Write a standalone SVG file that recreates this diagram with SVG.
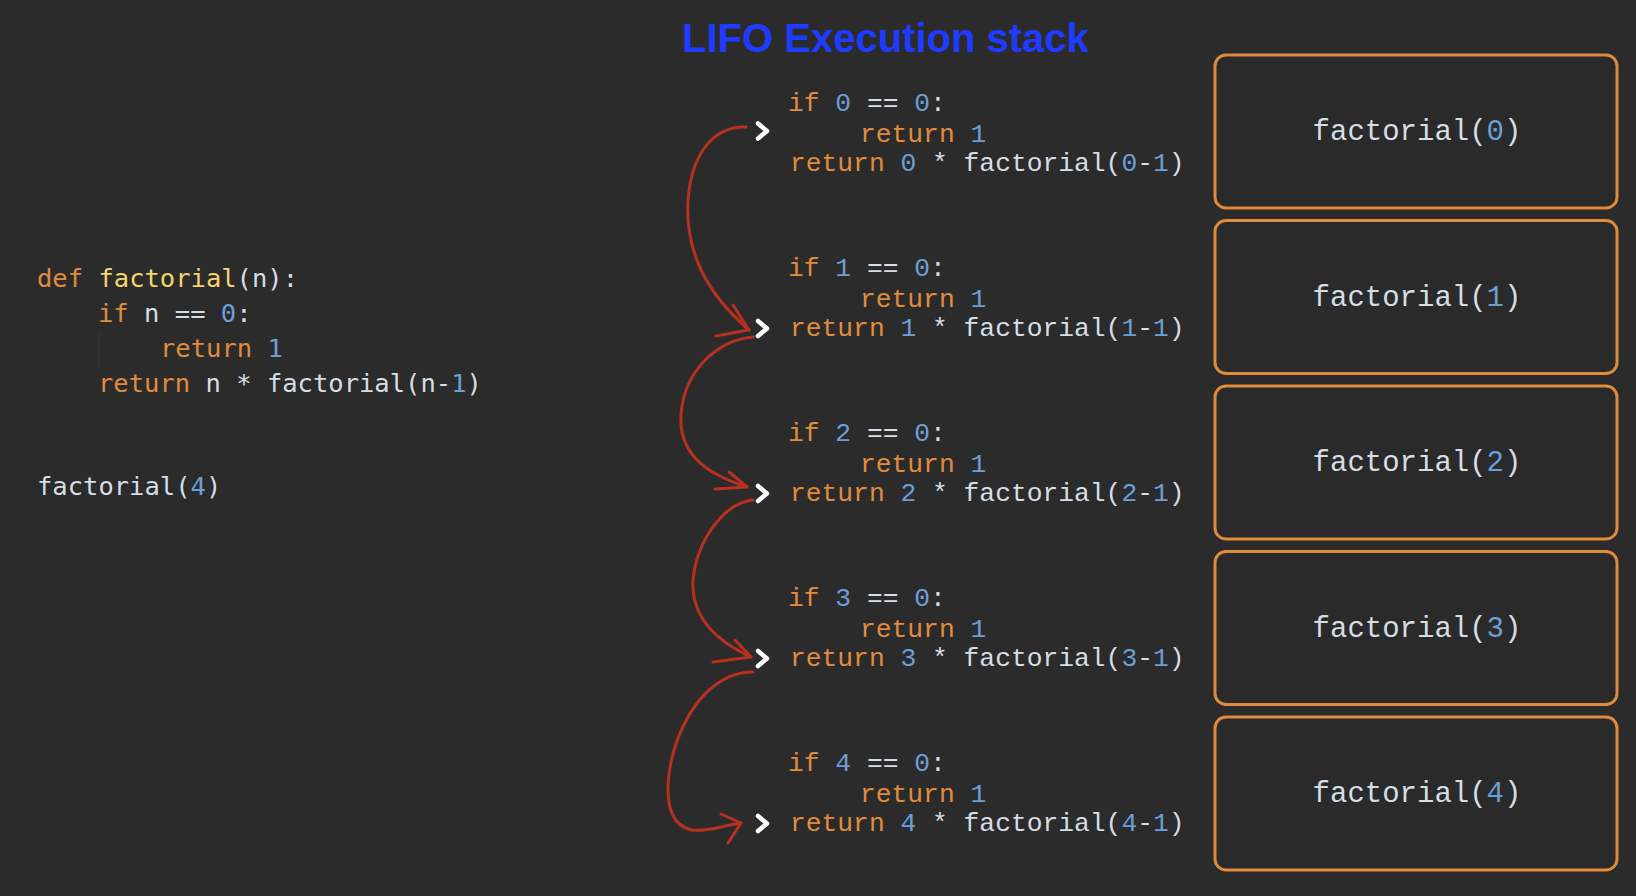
<svg xmlns="http://www.w3.org/2000/svg" width="1636" height="896" viewBox="0 0 1636 896">
<defs>
<style>
.code{font-family:"DejaVu Sans Mono","Liberation Mono",monospace;font-size:25.5px;fill:#d6dde4}
.mid{font-family:"Liberation Mono","DejaVu Sans Mono",monospace;font-size:26.3px;fill:#d6dde4}
.box{fill:#2a2a2a;stroke:#e08a3c;stroke-width:3}
.boxt{font-family:"Liberation Mono","DejaVu Sans Mono",monospace;font-size:29px;fill:#d6dde4;text-anchor:middle}
.kw{fill:#e08c3e}
.num{fill:#6b9fd6}
.fn{fill:#f3d56b}
.chev{fill:none;stroke:#ffffff;stroke-width:4.5;stroke-linecap:round;stroke-linejoin:round}
.arr{fill:none;stroke:#b8301f;stroke-width:3;stroke-linecap:round;stroke-linejoin:round}
.title{font-family:"Liberation Sans",Arial,sans-serif;font-weight:bold;font-size:40px;fill:#1f3bff}
</style>
</defs>
<rect width="1636" height="896" fill="#2b2b2b"/>

<g id="title"><text class="title" x="682" y="52">LIFO Execution stack</text></g>

<g id="source-code">
<line x1="99" y1="333" x2="99" y2="367" stroke="#383838" stroke-width="1"/>
<text class="code" x="37" y="287"><tspan class="kw">def</tspan> <tspan class="fn">factorial</tspan>(n):</text>
<text class="code" x="98" y="322"><tspan class="kw">if</tspan> n == <tspan class="num">0</tspan>:</text>
<text class="code" x="160" y="357"><tspan class="kw">return</tspan> <tspan class="num">1</tspan></text>
<text class="code" x="98" y="392"><tspan class="kw">return</tspan> n * factorial(n-<tspan class="num">1</tspan>)</text>
<text class="code" x="37" y="495">factorial(<tspan class="num">4</tspan>)</text>
</g>

<g id="frame-0">
<text class="mid" x="788" y="111"><tspan class="kw">if</tspan> <tspan class="num">0</tspan> == <tspan class="num">0</tspan>:</text>
<text class="mid" x="860" y="142"><tspan class="kw">return</tspan> <tspan class="num">1</tspan></text>
<text class="mid" x="790" y="171"><tspan class="kw">return</tspan> <tspan class="num">0</tspan> * factorial(<tspan class="num">0</tspan>-<tspan class="num">1</tspan>)</text>
<path class="chev" d="M758,123.5 L767,131 L758,138.5"/>
</g>
<g id="frame-1">
<text class="mid" x="788" y="276"><tspan class="kw">if</tspan> <tspan class="num">1</tspan> == <tspan class="num">0</tspan>:</text>
<text class="mid" x="860" y="307"><tspan class="kw">return</tspan> <tspan class="num">1</tspan></text>
<text class="mid" x="790" y="336"><tspan class="kw">return</tspan> <tspan class="num">1</tspan> * factorial(<tspan class="num">1</tspan>-<tspan class="num">1</tspan>)</text>
<path class="chev" d="M758,321 L767,328.5 L758,336"/>
</g>
<g id="frame-2">
<text class="mid" x="788" y="441"><tspan class="kw">if</tspan> <tspan class="num">2</tspan> == <tspan class="num">0</tspan>:</text>
<text class="mid" x="860" y="472"><tspan class="kw">return</tspan> <tspan class="num">1</tspan></text>
<text class="mid" x="790" y="501"><tspan class="kw">return</tspan> <tspan class="num">2</tspan> * factorial(<tspan class="num">2</tspan>-<tspan class="num">1</tspan>)</text>
<path class="chev" d="M758,486 L767,493.5 L758,501"/>
</g>
<g id="frame-3">
<text class="mid" x="788" y="606"><tspan class="kw">if</tspan> <tspan class="num">3</tspan> == <tspan class="num">0</tspan>:</text>
<text class="mid" x="860" y="637"><tspan class="kw">return</tspan> <tspan class="num">1</tspan></text>
<text class="mid" x="790" y="666"><tspan class="kw">return</tspan> <tspan class="num">3</tspan> * factorial(<tspan class="num">3</tspan>-<tspan class="num">1</tspan>)</text>
<path class="chev" d="M758,651 L767,658.5 L758,666"/>
</g>
<g id="frame-4">
<text class="mid" x="788" y="771"><tspan class="kw">if</tspan> <tspan class="num">4</tspan> == <tspan class="num">0</tspan>:</text>
<text class="mid" x="860" y="802"><tspan class="kw">return</tspan> <tspan class="num">1</tspan></text>
<text class="mid" x="790" y="831"><tspan class="kw">return</tspan> <tspan class="num">4</tspan> * factorial(<tspan class="num">4</tspan>-<tspan class="num">1</tspan>)</text>
<path class="chev" d="M758,816 L767,823.5 L758,831"/>
</g>

<g id="stack-0"><rect class="box" x="1215" y="55" width="402" height="153" rx="11"/><text class="boxt" x="1417" y="140">factorial(<tspan class="num">0</tspan>)</text></g>
<g id="stack-1"><rect class="box" x="1215" y="220.5" width="402" height="153" rx="11"/><text class="boxt" x="1417" y="305.5">factorial(<tspan class="num">1</tspan>)</text></g>
<g id="stack-2"><rect class="box" x="1215" y="386" width="402" height="153" rx="11"/><text class="boxt" x="1417" y="471">factorial(<tspan class="num">2</tspan>)</text></g>
<g id="stack-3"><rect class="box" x="1215" y="551.5" width="402" height="153" rx="11"/><text class="boxt" x="1417" y="636.5">factorial(<tspan class="num">3</tspan>)</text></g>
<g id="stack-4"><rect class="box" x="1215" y="717" width="402" height="153" rx="11"/><text class="boxt" x="1417" y="802">factorial(<tspan class="num">4</tspan>)</text></g>

<g id="connectors">
<path class="arr" d="M746,127 C716,126 692,150 688,200 C685,250 705,292 749,330"/>
<path class="arr" d="M733,305 L749,330 L716,336"/>
<path class="arr" d="M753,337 C718,340 684,370 681,415 C679,450 700,472 747,487"/>
<path class="arr" d="M729,472 L747,487 L715,489"/>
<path class="arr" d="M753,500 C724,503 697,540 693,580 C691,615 714,640 751,657"/>
<path class="arr" d="M735,640 L751,657 L713,662"/>
<path class="arr" d="M753,672 C716,672 688,705 674,750 C663,790 666,825 692,830 C708,832 720,826 741,823"/>
<path class="arr" d="M721,814 L741,823 L728,843"/>
</g>
</svg>
